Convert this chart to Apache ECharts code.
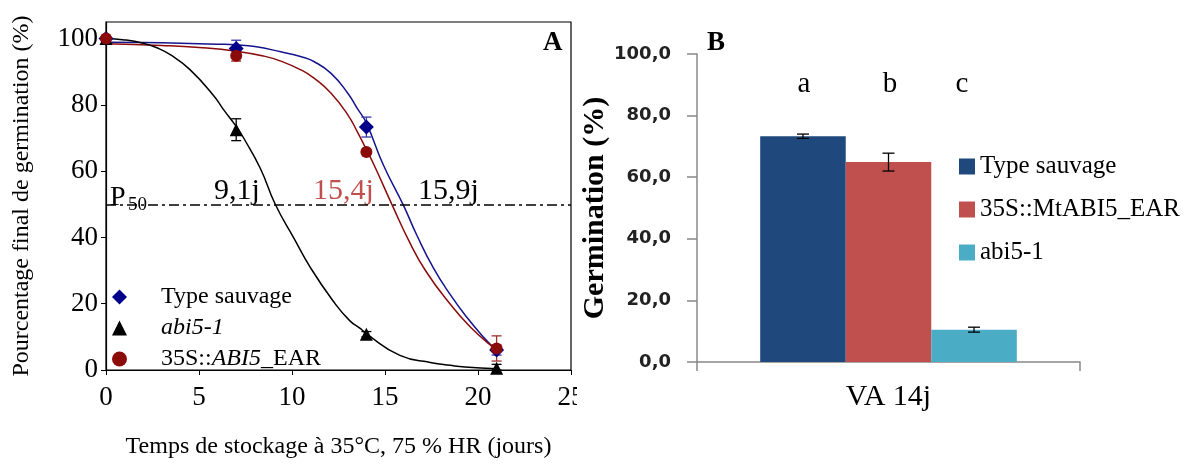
<!DOCTYPE html>
<html><head><meta charset="utf-8">
<script src="https://cdn.jsdelivr.net/npm/echarts@6/dist/echarts.min.js"></script>
<style>html,body{margin:0;padding:0;background:#fff}#c{width:1192px;height:464px}</style>
</head><body><div id="c"></div>
<script>
// ---- Panel A : germination after storage ----
const days = [0, 7, 14, 21];
const wtMean = [100, 97, 73.3, 6];
const wtErr = [0.5, 2.5, 3, 1.5];
const abiMean = [100, 72.5, 10.8, 0.5];
const abiErr = [0.3, 3.3, 0.8, 1.2];
const earMean = [100, 94.8, 65.8, 6.5];
const earErr = [0.5, 1.6, 0.8, 3.8];

// fitted curves
const wtFitT = [0, 2, 4, 6, 7, 8, 9.4, 10.5, 11.2, 12.1, 13, 13.5, 14, 14.9, 16, 16.7, 17.6, 18.5, 19.4, 20.3, 21];
const wtFitV = [98.9, 98.8, 98.6, 98.3, 98.1, 97.6, 96.0, 94.5, 93.0, 89.5, 83.5, 79, 74.5, 62, 49.6, 40.8, 30.8, 22.8, 15.9, 9.9, 5.9];
const earFitT = [0, 3, 5, 7, 8.5, 9.4, 10.5, 11.2, 12.1, 13, 13.5, 14, 14.4, 15.4, 16.3, 17.2, 18.5, 19.6, 20.8, 21];
const earFitV = [98.4, 97.9, 97.3, 96.2, 94.7, 93.2, 90.5, 88, 83.5, 77, 72, 66.5, 62, 49.6, 38.8, 29.8, 19.9, 12.9, 6.9, 6.3];
const abiFitT = [0, 1, 2, 2.7, 3.5, 4.5, 5.8, 6.3, 7, 7.4, 8.3, 9.1, 10.1, 11, 12.2, 13.1, 13.7, 14, 15.8, 17.5, 18.5, 19.3, 21];
const abiFitV = [100, 99.6, 98.6, 97.3, 95, 90.7, 82.7, 78.7, 73.5, 70, 60.8, 50, 39.8, 30.8, 20.9, 14.9, 12.4, 10.9, 4.4, 2.2, 1.4, 0.9, 0.4];

const p50Value = 50;
const p50Labels = ['9,1j', '15,4j', '15,9j'];
const legendA = ['Type sauvage', 'abi5-1', '35S::ABI5_EAR'];

// ---- Panel B : germination at VA 14j ----
const barCategory = ['VA 14j'];
const barNames = ['Type sauvage', '35S::MtABI5_EAR', 'abi5-1'];
const barValues = [73.3, 64.9, 10.5];
const barErrors = [0.7, 2.9, 0.8];
const barLetters = ['a', 'b', 'c'];

const SERIF = 'Liberation Serif';
const zip = (a, b) => a.map((v, i) => [v, b[i]]);
const zip3 = (a, b, c) => a.map((v, i) => [v, b[i], c[i]]);

function errItem(color) {
  return function (params, api) {
    const x = api.value(0), m = api.value(1), e = api.value(2);
    const t = api.coord([x, m + e]), b = api.coord([x, Math.max(0, m - e)]);
    const hw = 5, st = { stroke: color, lineWidth: 1.3 };
    return { type: 'group', children: [
      { type: 'line', shape: { x1: t[0], y1: t[1], x2: b[0], y2: b[1] }, style: st },
      { type: 'line', shape: { x1: t[0] - hw, y1: t[1], x2: t[0] + hw, y2: t[1] }, style: st },
      { type: 'line', shape: { x1: b[0] - hw, y1: b[1], x2: b[0] + hw, y2: b[1] }, style: st }
    ]};
  };
}
const BAR_GAP = 0.33;
function barErrItem(params, api) {
  const m = api.value(1), e = api.value(2), i = api.value(3);
  const band = api.size([1, 0])[0];
  const bw = band * (1 - BAR_GAP) / barValues.length;
  const c = api.coord([0, m]);
  const x = c[0] + (i - (barValues.length - 1) / 2) * bw;
  const t = api.coord([0, m + e])[1], b = api.coord([0, m - e])[1];
  const hw = 6, st = { stroke: '#000', lineWidth: 1.3 };
  return { type: 'group', children: [
    { type: 'line', shape: { x1: x, y1: t, x2: x, y2: b }, style: st },
    { type: 'line', shape: { x1: x - hw, y1: t, x2: x + hw, y2: t }, style: st },
    { type: 'line', shape: { x1: x - hw, y1: b, x2: x + hw, y2: b }, style: st }
  ]};
}

const colA = { wt: '#14148f', abi: '#000000', ear: '#8b0a0a' };
const colB = ['#1F497D', '#C0504D', '#4BACC6'];
const nameMapA = { 'A-wt': legendA[0], 'A-abi': '{i|' + legendA[1] + '}', 'A-ear': '35S::{i|ABI5}_EAR' };
const nameMapB = { 'B0': barNames[0], 'B1': barNames[1], 'B2': barNames[2] };

const chart = echarts.init(document.getElementById('c'), null, { renderer: 'canvas' });
const option = {
  animation: false,
  backgroundColor: '#fff',
  textStyle: { fontFamily: SERIF },
  grid: [
    { left: 106, top: 22, width: 465, height: 351, show: true, borderColor: '#000', borderWidth: 1.2 },
    { left: 697, top: 54, width: 383, height: 308 }
  ],
  xAxis: [
    { type: 'value', gridIndex: 0, min: 0, max: 25, interval: 5,
      axisLine: { lineStyle: { color: '#000', width: 1.2 } },
      axisTick: { show: true, length: 5, lineStyle: { color: '#000' } },
      axisLabel: { fontFamily: SERIF, fontSize: 27, color: '#000', margin: 14 },
      splitLine: { show: false },
      name: 'Temps de stockage à 35°C, 75 % HR (jours)', nameLocation: 'middle', nameGap: 65,
      nameTextStyle: { fontFamily: SERIF, fontSize: 24, color: '#000' } },
    { type: 'category', gridIndex: 1, data: barCategory,
      axisLine: { lineStyle: { color: '#888', width: 1.5 } },
      axisTick: { show: true, length: 9, lineStyle: { color: '#888', width: 1.5 } },
      axisLabel: { fontFamily: SERIF, fontSize: 30, color: '#000', margin: 20 } }
  ],
  yAxis: [
    { type: 'value', gridIndex: 0, min: 0, max: 105, interval: 20,
      axisLine: { show: true, lineStyle: { color: '#000', width: 1.2 } },
      axisTick: { show: true, length: 5, lineStyle: { color: '#000' } },
      axisLabel: { fontFamily: SERIF, fontSize: 27, color: '#000', margin: 8, showMaxLabel: false },
      splitLine: { show: false },
      name: 'Pourcentage final de germination (%)', nameLocation: 'middle', nameGap: 72,
      nameTextStyle: { fontFamily: SERIF, fontSize: 24, color: '#000' } },
    { type: 'value', gridIndex: 1, min: 0, max: 100, interval: 20,
      axisLine: { show: true, lineStyle: { color: '#888', width: 1.5 } },
      axisTick: { show: true, length: 10, lineStyle: { color: '#888', width: 1.5 } },
      axisLabel: { fontFamily: 'DejaVu Sans', fontSize: 18, fontWeight: 'bold', color: '#222', margin: 26,
        formatter: v => v.toFixed(1).replace('.', ',') },
      splitLine: { show: false },
      name: 'Germination (%)', nameLocation: 'middle', nameGap: 82,
      nameTextStyle: { fontFamily: SERIF, fontSize: 30, fontWeight: 'bold', color: '#000' } }
  ],
  legend: [
    { data: ['A-wt', 'A-abi', 'A-ear'], orient: 'vertical', left: 107, top: 280,
      itemWidth: 15, itemHeight: 15, itemGap: 7,
      formatter: n => nameMapA[n],
      textStyle: { fontFamily: SERIF, fontSize: 24, color: '#000', padding: [0, 0, 0, 29],
        rich: { i: { fontFamily: SERIF, fontSize: 24, fontStyle: 'italic', color: '#000' } } } },
    { data: ['B0', 'B1', 'B2'], orient: 'vertical', left: 954, top: 149, icon: 'rect',
      itemWidth: 16, itemHeight: 16, itemGap: 18,
      formatter: n => nameMapB[n],
      textStyle: { fontFamily: SERIF, fontSize: 25, color: '#000' } }
  ],
  series: [
    { type: 'line', name: 'wt-fit', xAxisIndex: 0, yAxisIndex: 0, data: zip(wtFitT, wtFitV),
      smooth: 0.5, showSymbol: false, silent: true,
      lineStyle: { color: colA.wt, width: 1.5 }, z: 2 },
    { type: 'line', name: 'ear-fit', xAxisIndex: 0, yAxisIndex: 0, data: zip(earFitT, earFitV),
      smooth: 0.5, showSymbol: false, silent: true,
      lineStyle: { color: colA.ear, width: 1.5 }, z: 2 },
    { type: 'line', name: 'abi-fit', xAxisIndex: 0, yAxisIndex: 0, data: zip(abiFitT, abiFitV),
      smooth: 0.5, showSymbol: false, silent: true,
      lineStyle: { color: colA.abi, width: 1.5 }, z: 2,
      markLine: { silent: true, symbol: 'none', label: { show: false },
        lineStyle: { color: '#000', width: 1.5, type: [10, 4, 3, 4] },
        data: [{ yAxis: p50Value }] } },
    { type: 'custom', name: 'wt-err', xAxisIndex: 0, yAxisIndex: 0, data: zip3(days, wtMean, wtErr),
      renderItem: errItem('#3a3aa8'), z: 3, silent: true },
    { type: 'custom', name: 'abi-err', xAxisIndex: 0, yAxisIndex: 0, data: zip3(days, abiMean, abiErr),
      renderItem: errItem('#000'), z: 3, silent: true },
    { type: 'custom', name: 'ear-err', xAxisIndex: 0, yAxisIndex: 0, data: zip3(days, earMean, earErr),
      renderItem: errItem('#a03030'), z: 3, silent: true },
    { type: 'scatter', name: 'A-wt', xAxisIndex: 0, yAxisIndex: 0, data: zip(days, wtMean),
      symbol: 'diamond', symbolSize: 15, itemStyle: { color: '#00008b', opacity: 1 }, z: 4 },
    { type: 'scatter', name: 'A-abi', xAxisIndex: 0, yAxisIndex: 0, data: zip(days, abiMean),
      symbol: 'triangle', symbolSize: 13, itemStyle: { color: '#000', opacity: 1 }, z: 4 },
    { type: 'scatter', name: 'A-ear', xAxisIndex: 0, yAxisIndex: 0, data: zip(days, earMean),
      symbol: 'circle', symbolSize: 12, itemStyle: { color: '#8b0a0a', opacity: 1 }, z: 5 },
    ...barValues.map((v, i) => ({
      type: 'bar', name: 'B' + i, xAxisIndex: 1, yAxisIndex: 1, data: [v],
      barGap: '0%', barCategoryGap: (BAR_GAP * 100) + '%', itemStyle: { color: colB[i] }
    })),
    { type: 'custom', name: 'bar-err', xAxisIndex: 1, yAxisIndex: 1,
      data: barValues.map((v, i) => [0, v, barErrors[i], i]),
      renderItem: barErrItem, z: 5, silent: true }
  ],
  graphic: [
    { type: 'rect', shape: { x: 577, y: 378, width: 20, height: 45 }, style: { fill: '#fff' }, z: 100 },
    { type: 'text', left: 543, top: 30, style: { text: 'A', font: 'bold 27px "Liberation Serif"', fill: '#000' } },
    { type: 'text', x: 110, y: 198, style: { text: 'P', font: '28px "Liberation Serif"', fill: '#000', verticalAlign: 'middle' } },
    { type: 'text', x: 128, y: 205, style: { text: '50', font: '19px "Liberation Serif"', fill: '#000', verticalAlign: 'middle' } },
    { type: 'text', x: 214, y: 191, style: { text: p50Labels[0], font: '30px "Liberation Serif"', fill: '#000', verticalAlign: 'middle' } },
    { type: 'text', x: 313, y: 191, style: { text: p50Labels[1], font: '30px "Liberation Serif"', fill: '#C0504D', verticalAlign: 'middle' } },
    { type: 'text', x: 418, y: 191, style: { text: p50Labels[2], font: '30px "Liberation Serif"', fill: '#000', verticalAlign: 'middle' } },
    { type: 'text', left: 707, top: 30, style: { text: 'B', font: 'bold 27px "Liberation Serif"', fill: '#000' } },
    { type: 'text', x: 804, y: 84, style: { text: barLetters[0], font: '29px "Liberation Serif"', fill: '#000', align: 'center', verticalAlign: 'middle' } },
    { type: 'text', x: 890, y: 84, style: { text: barLetters[1], font: '29px "Liberation Serif"', fill: '#000', align: 'center', verticalAlign: 'middle' } },
    { type: 'text', x: 962, y: 84, style: { text: barLetters[2], font: '29px "Liberation Serif"', fill: '#000', align: 'center', verticalAlign: 'middle' } }
  ]
};
chart.setOption(option);
</script></body></html>
